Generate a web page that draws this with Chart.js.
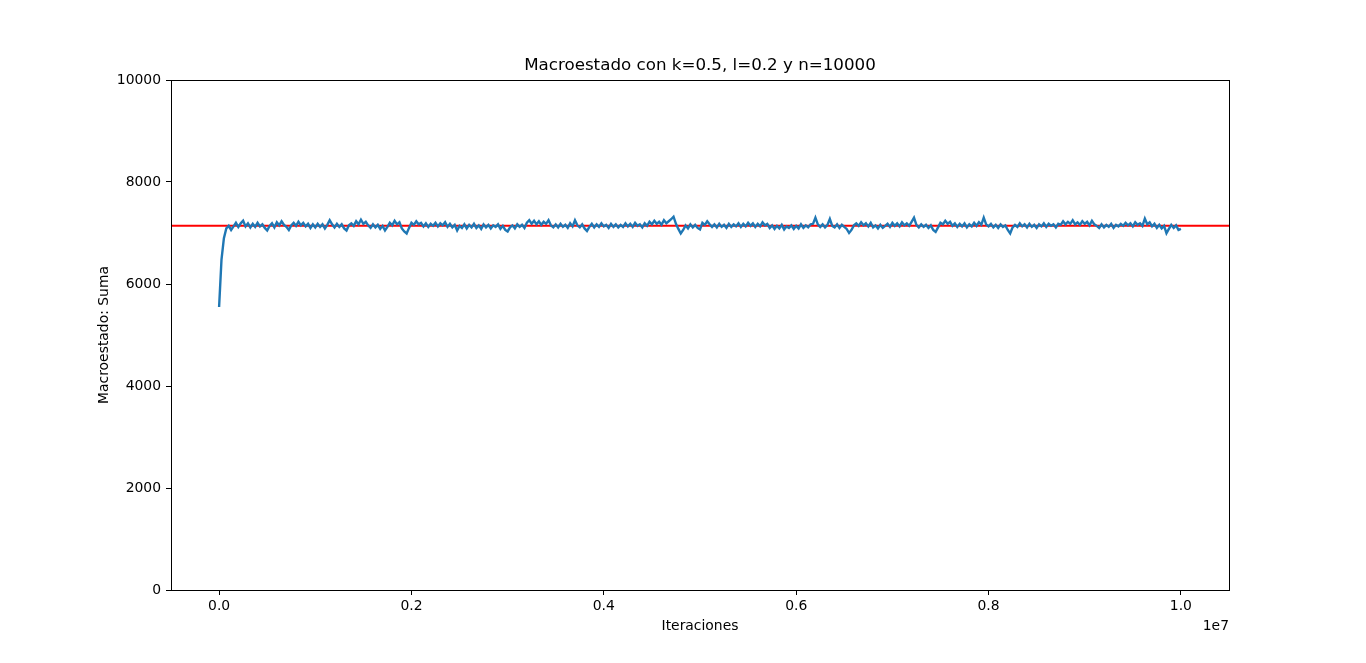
<!DOCTYPE html>
<html>
<head>
<meta charset="utf-8">
<script src="https://cdn.jsdelivr.net/npm/chart.js@4.4.0/dist/chart.umd.min.js"></script>
<style>
  html, body { margin: 0; padding: 0; background: #fff; }
  #wrap { width: 1366px; height: 663px; }
</style>
</head>
<body>
<div id="wrap"><canvas id="chart" width="1366" height="663"></canvas></div>
<script>
// muestras cada 25000 iteraciones, de 0 a 1e7
const sampleStep = 25000;
const sumaValues = [
  5550, 6480, 6900, 7090, 7140, 7060, 7130, 7200, 7120, 7190,
  7240, 7130, 7190, 7110, 7180, 7120, 7200, 7130, 7170, 7100,
  7050, 7140, 7190, 7110, 7210, 7150, 7230, 7160, 7120, 7060,
  7150, 7200, 7140, 7220, 7150, 7200, 7130, 7180, 7100, 7170,
  7110, 7180, 7120, 7170, 7090, 7160, 7250, 7170, 7110, 7180,
  7120, 7170, 7090, 7050, 7150, 7190, 7140, 7230, 7170, 7260,
  7180, 7220, 7150, 7100, 7170, 7110, 7160, 7080, 7140, 7050,
  7120, 7200, 7150, 7240, 7170, 7210, 7090, 7030, 6990, 7100,
  7200, 7160, 7230, 7170, 7200, 7130, 7190, 7120, 7180, 7140,
  7200, 7130, 7190, 7150, 7210, 7120, 7180, 7110, 7160, 7050,
  7140, 7100, 7170, 7090, 7160, 7110, 7180, 7100, 7150, 7080,
  7170, 7110, 7160, 7090, 7150, 7120, 7170, 7080, 7140, 7060,
  7030, 7110, 7150, 7090, 7170, 7120, 7160, 7100, 7200, 7250,
  7180, 7240, 7170, 7230, 7160, 7220, 7180, 7250, 7150, 7110,
  7170, 7110, 7180, 7120, 7160, 7100, 7190, 7130, 7250, 7150,
  7110, 7170, 7090, 7040, 7120, 7180, 7110, 7170, 7120, 7190,
  7130, 7160, 7100, 7180, 7120, 7170, 7110, 7160, 7120, 7190,
  7130, 7180, 7120, 7200, 7140, 7170, 7110, 7190, 7140, 7220,
  7170, 7240, 7180, 7220, 7160, 7250, 7190, 7230, 7270, 7320,
  7180, 7080, 6990, 7060, 7150, 7090, 7170, 7110, 7160, 7100,
  7070, 7200, 7160, 7230, 7170, 7120, 7170, 7110, 7180, 7120,
  7160, 7100, 7180, 7120, 7170, 7130, 7190, 7120, 7180, 7130,
  7200, 7140, 7190, 7120, 7180, 7130, 7210, 7150, 7180, 7100,
  7150, 7080, 7140, 7090, 7160, 7070, 7130, 7100, 7150, 7080,
  7140, 7090, 7170, 7100, 7150, 7110, 7170, 7180, 7300, 7170,
  7120, 7170, 7110, 7160, 7275, 7140, 7110, 7170, 7100, 7160,
  7120, 7080, 7000, 7060, 7150, 7190, 7140, 7210, 7150, 7190,
  7130, 7200, 7110, 7150, 7090, 7160, 7100, 7140, 7180, 7120,
  7200, 7140, 7190, 7130, 7210, 7150, 7190, 7140, 7220, 7300,
  7160, 7110, 7170, 7120, 7160, 7100, 7150, 7060, 7020, 7110,
  7200, 7170, 7240, 7180, 7220, 7140, 7190, 7120, 7180, 7130,
  7190, 7110, 7170, 7130, 7200, 7140, 7210, 7160, 7300, 7170,
  7130, 7180, 7110, 7160, 7100, 7170, 7120, 7150, 7060, 6990,
  7110, 7160, 7120, 7190, 7130, 7170, 7110, 7180, 7120, 7160,
  7100, 7170, 7130, 7190, 7120, 7180, 7140, 7170, 7110, 7180,
  7160, 7230, 7170, 7220, 7180, 7250, 7170, 7210, 7160, 7230,
  7180, 7220, 7150, 7240, 7170, 7140, 7100, 7170, 7110, 7160,
  7120, 7180, 7100, 7160, 7130, 7180, 7140, 7200, 7150, 7190,
  7130, 7210, 7160, 7190, 7140, 7280, 7170, 7210, 7130, 7180,
  7100, 7160, 7090, 7140, 6995, 7080, 7160, 7100, 7150, 7060,
  7080
];
// valor de equilibrio n*k/(k+l)
const equilibrio = 10000 * 0.5 / (0.5 + 0.2);

const xLimits = [-500000, 10500000];
const yLimits = [0, 10000];
const xTicks = [0, 2000000, 4000000, 6000000, 8000000, 10000000];
const yTicks = [0, 2000, 4000, 6000, 8000, 10000];

const fontFamily = '"DejaVu Sans", sans-serif';

const sumaPoints = sumaValues.map((v, i) => ({ x: i * sampleStep, y: v }));
const eqPoints = xLimits.map(x => ({ x: x, y: equilibrio }));

// marco, titulo y etiquetas al estilo matplotlib
const frameText = {
  id: 'frameText',
  afterDraw(chart) {
    const { ctx, chartArea: a } = chart;
    ctx.save();
    ctx.strokeStyle = '#000';
    ctx.lineWidth = 1;
    ctx.strokeRect(Math.round(a.left) + 0.5, Math.round(a.top) + 0.5,
      Math.round(a.right - a.left), Math.round(a.bottom - a.top));
    ctx.fillStyle = '#000';
    ctx.textAlign = 'center';
    ctx.textBaseline = 'middle';
    ctx.font = '16.7px ' + fontFamily;
    ctx.fillText('Macroestado con k=0.5, l=0.2 y n=10000', (a.left + a.right) / 2, 66);
    ctx.font = '13.9px ' + fontFamily;
    ctx.fillText('Iteraciones', (a.left + a.right) / 2, 626);
    ctx.textAlign = 'right';
    ctx.fillText('1e7', a.right, 626);
    ctx.translate(104, (a.top + a.bottom) / 2);
    ctx.rotate(-Math.PI / 2);
    ctx.textAlign = 'center';
    ctx.fillText('Macroestado: Suma', 0, 0);
    ctx.restore();
  }
};

new Chart(document.getElementById('chart'), {
  type: 'line',
  data: {
    datasets: [{
      label: 'Suma',
      data: sumaPoints,
      borderColor: '#1f77b4',
      borderWidth: 2.4,
      pointRadius: 0,
      tension: 0
    }, {
      label: 'Equilibrio',
      data: eqPoints,
      borderColor: '#ff0000',
      borderWidth: 2,
      pointRadius: 0
    }]
  },
  options: {
    responsive: false,
    animation: false,
    devicePixelRatio: 1,
    layout: { padding: { top: 80, right: 137, left: 0, bottom: 0 } },
    plugins: {
      legend: { display: false },
      tooltip: { enabled: false },
      title: { display: false }
    },
    scales: {
      x: {
        type: 'linear',
        min: xLimits[0],
        max: xLimits[1],
        afterBuildTicks: s => { s.ticks = xTicks.map(v => ({ value: v })); },
        afterFit: s => { s.height = 73; },
        grid: { drawOnChartArea: false, drawTicks: true, tickLength: 5, color: '#000' },
        border: { display: true, color: '#000' },
        ticks: {
          color: '#000',
          padding: 3,
          maxRotation: 0,
          font: { family: fontFamily, size: 13.9 },
          callback: v => (v / 1e7).toFixed(1)
        }
      },
      y: {
        type: 'linear',
        min: yLimits[0],
        max: yLimits[1],
        afterBuildTicks: s => { s.ticks = yTicks.map(v => ({ value: v })); },
        afterFit: s => { s.width = 171; },
        grid: { drawOnChartArea: false, drawTicks: true, tickLength: 5, color: '#000' },
        border: { display: true, color: '#000' },
        ticks: {
          color: '#000',
          padding: 5,
          font: { family: fontFamily, size: 13.9 },
          callback: v => String(v)
        }
      }
    }
  },
  plugins: [frameText]
});
</script>
</body>
</html>
